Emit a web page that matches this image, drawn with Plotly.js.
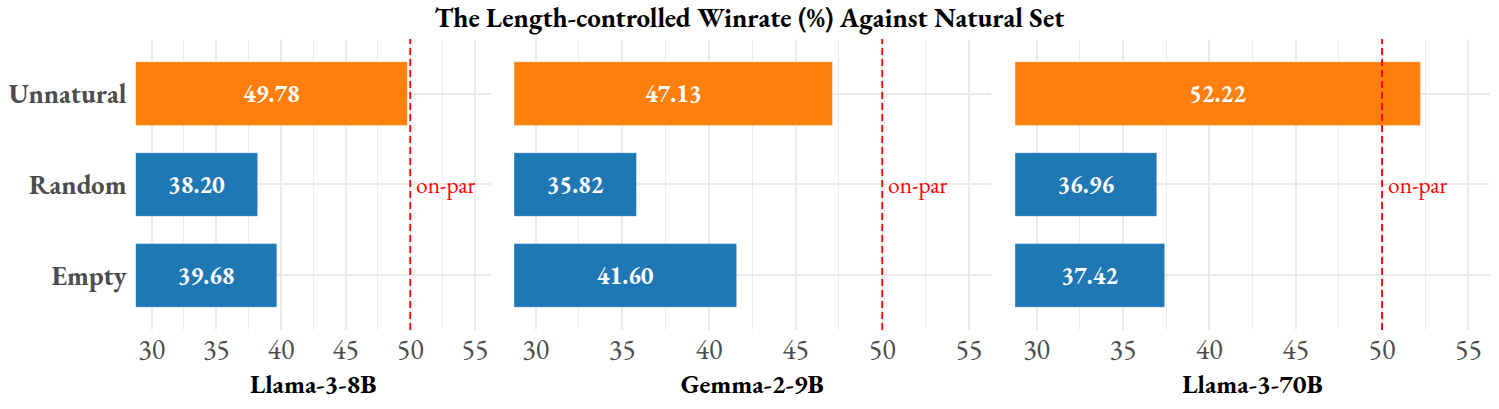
<!DOCTYPE html>
<html>
<head>
<meta charset="utf-8">
<script src="https://cdn.plot.ly/plotly-3.0.1.min.js"></script>
<style>
  html, body { margin: 0; padding: 0; background: #fff; }
  #chart { width: 1499px; height: 409px; }
</style>
</head>
<body>
<div id="chart"></div>
<script>
// Length-controlled winrate vs natural set, one panel per model

const models = ["Llama-3-8B", "Gemma-2-9B", "Llama-3-70B"];
const categories = ["Unnatural", "Random", "Empty"];
const unnatural = [49.78, 47.13, 52.22];
const random = [38.20, 35.82, 36.96];
const empty = [39.68, 41.60, 37.42];
const parLine = 50;

const ORANGE = "#ff7f0e";
const BLUE = "#1f77b4";
const GRID = "#ebebeb";
const FONT = "'EB Garamond', 'Liberation Serif', 'DejaVu Serif', serif";

const XMIN = 28.75, XMAX = 56.25;

// panel domains (paper fractions)
const xDomains = [[0.0904, 0.3276], [0.3429, 0.6608], [0.6771, 0.9940]];
const yDomain = [0.1932, 0.9046];

const traces = [];
const layout = {
  width: 1499,
  height: 409,
  margin: { t: 0, r: 0, b: 0, l: 0 },
  paper_bgcolor: "#fff",
  plot_bgcolor: "#fff",
  font: { family: FONT, color: "#4d4d4d" },
  showlegend: false,
  bargap: 0.3,
  title: {
    text: "The Length-controlled Winrate (%) Against Natural Set",
    x: 0.5, xref: "paper", xanchor: "center",
    y: 0.956, yref: "paper", yanchor: "middle",
    font: { family: FONT, size: 27, color: "#000", weight: "bold" },
  },
  shapes: [],
  annotations: [],
};

models.forEach((m, i) => {
  const vals = [unnatural[i], random[i], empty[i]];
  const sfx = i === 0 ? "" : String(i + 1);

  traces.push({
    type: "bar",
    orientation: "h",
    xaxis: "x" + sfx,
    yaxis: "y" + sfx,
    y: categories,
    base: XMIN,
    x: vals.map(v => v - XMIN),
    text: vals.map(v => v.toFixed(2)),
    textposition: "inside",
    insidetextanchor: "middle",
    textangle: 0,
    constraintext: "none",
    textfont: { family: FONT, size: 24, color: "#fff", weight: "bold" },
    marker: {
      color: categories.map(c => c === "Unnatural" ? ORANGE : BLUE),
      line: { color: "rgba(255,255,255,0.5)", width: 0.8 },
    },
    hoverinfo: "skip",
  });

  layout["xaxis" + sfx] = {
    domain: xDomains[i],
    anchor: "y" + sfx,
    range: [XMIN, XMAX],
    tick0: 0,
    dtick: 5,
    showgrid: true,
    gridcolor: GRID,
    gridwidth: 2,
    minor: { dtick: 2.5, showgrid: true, gridcolor: GRID, gridwidth: 1 },
    zeroline: false,
    showline: false,
    ticks: "",
    tickfont: { family: FONT, size: 28, color: "#4d4d4d" },
    title: {
      text: m,
      standoff: 3,
      font: { family: FONT, size: 26, color: "#000", weight: "bold" },
    },
  };

  layout["yaxis" + sfx] = {
    domain: yDomain,
    anchor: "x" + sfx,
    type: "category",
    categoryorder: "array",
    categoryarray: categories,
    range: [2.6, -0.6],
    showgrid: true,
    gridcolor: GRID,
    gridwidth: 2,
    zeroline: false,
    showline: false,
    ticks: "",
    showticklabels: i === 0,
    ticklabelstandoff: 8,
    tickfont: { family: FONT, size: 27, color: "#4d4d4d", weight: "bold" },
  };

  layout.shapes.push({
    type: "line",
    xref: "x" + sfx, yref: "y" + sfx + " domain",
    x0: parLine, x1: parLine, y0: 0, y1: 1,
    line: { color: "#ff0000", width: 1.8, dash: "7px,4px" },
    layer: "above",
  });

  layout.annotations.push({
    xref: "x" + sfx, yref: "y" + sfx,
    x: parLine, y: "Random",
    text: "on-par",
    showarrow: false,
    xanchor: "left", yanchor: "middle",
    xshift: 4,
    font: { family: FONT, size: 23.5, color: "#ff0000" },
  });
});

Plotly.newPlot("chart", traces, layout, { displayModeBar: false, staticPlot: true });
</script>
</body>
</html>
